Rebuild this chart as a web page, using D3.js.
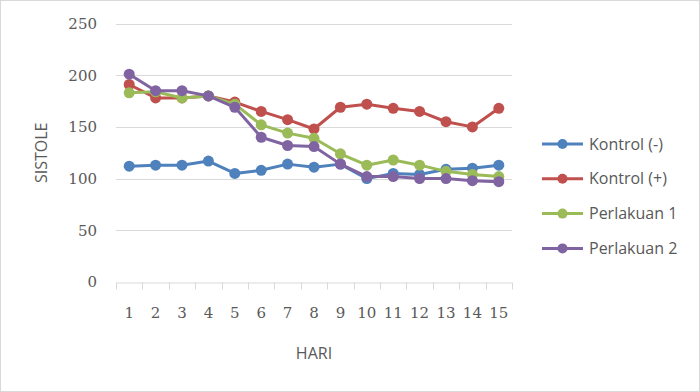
<!DOCTYPE html>
<html>
<head>
<meta charset="utf-8">
<script src="https://cdn.jsdelivr.net/npm/d3@7"></script>
<style>
  body { margin: 0; background: #fff; }
  .tick text { font-family: "DejaVu Serif", serif; font-size: 15px; fill: #595959; }
  .lbl { font-family: "Open Sans", sans-serif; font-size: 16px; fill: #595959; }
</style>
</head>
<body>
<div id="chart"></div>
<script>
// Sistole per hari, four groups
const days = d3.range(1, 16);
const seriesNames = ['Kontrol (-)', 'Kontrol (+)', 'Perlakuan 1', 'Perlakuan 2'];
const kontrolMin = [112, 113, 113, 117, 105, 108, 114, 111, 114, 100, 105, 104, 109, 110, 113];
const kontrolPlus = [191, 178, 178, 180, 174, 165, 157, 148, 169, 172, 168, 165, 155, 150, 168];
const perlakuan1 = [183, 184, 178, 180, 172, 152, 144, 139, 124, 113, 118, 113, 107, 104, 102];
const perlakuan2 = [201, 185, 185, 180, 169, 140, 132, 131, 114, 102, 102, 100, 100, 98, 97];
const yTicks = [0, 50, 100, 150, 200, 250];
const colors = ['#4f81bd', '#c0504d', '#9bbb59', '#8064a2'];

const width = 700, height = 392;
const margin = {left: 116, right: 188, top: 23.5, bottom: 110};

const svg = d3.select('#chart').append('svg')
    .attr('width', width)
    .attr('height', height);

// outer chart border
svg.append('rect')
    .attr('x', 0.5).attr('y', 0.5)
    .attr('width', width - 1).attr('height', height - 1)
    .attr('fill', '#fff')
    .attr('stroke', '#d9d9d9');

const x = d3.scaleBand()
    .domain(days)
    .range([margin.left, width - margin.right]);

const y = d3.scaleLinear()
    .domain([0, 250])
    .range([height - margin.bottom, margin.top]);

// gridlines
svg.append('g')
    .selectAll('line')
    .data(yTicks.slice(1))
    .join('line')
    .attr('x1', margin.left).attr('x2', width - margin.right)
    .attr('y1', d => Math.round(y(d)) + 0.5).attr('y2', d => Math.round(y(d)) + 0.5)
    .attr('stroke', '#d9d9d9');

// y axis labels
const yAxis = svg.append('g')
    .attr('transform', `translate(${margin.left},0)`)
    .call(d3.axisLeft(y).tickValues(yTicks).tickSize(0).tickPadding(19));
yAxis.select('.domain').remove();

// x axis
const xAxis = svg.append('g')
    .attr('transform', `translate(0,${Math.round(y(0)) + 0.5})`)
    .call(d3.axisBottom(x).tickSize(0).tickPadding(25));
xAxis.select('.domain').attr('stroke', '#d9d9d9');
xAxis.selectAll('.tickmark')
    .data(d3.range(0, 16))
    .join('line')
    .attr('class', 'tickmark')
    .attr('x1', d => Math.round(margin.left + d * x.step()) + 0.5)
    .attr('x2', d => Math.round(margin.left + d * x.step()) + 0.5)
    .attr('y1', 0).attr('y2', 7)
    .attr('stroke', '#d9d9d9');

// axis titles
svg.append('text')
    .attr('class', 'lbl')
    .attr('x', (margin.left + width - margin.right) / 2)
    .attr('y', 359)
    .attr('text-anchor', 'middle')
    .text('HARI');

svg.append('text')
    .attr('class', 'lbl')
    .attr('transform', `translate(47,${y(125)}) rotate(-90)`)
    .attr('text-anchor', 'middle')
    .text('SISTOLE');

// lines
const allSeries = [kontrolMin, kontrolPlus, perlakuan1, perlakuan2];
const line = d3.line()
    .x((d, i) => x(days[i]) + x.bandwidth() / 2)
    .y(d => y(d));

allSeries.forEach((vals, k) => {
    const g = svg.append('g');
    g.append('path')
        .datum(vals)
        .attr('d', line)
        .attr('fill', 'none')
        .attr('stroke', colors[k])
        .attr('stroke-width', 3)
        .attr('stroke-linejoin', 'round');
    g.selectAll('circle')
        .data(vals)
        .join('circle')
        .attr('cx', (d, i) => x(days[i]) + x.bandwidth() / 2)
        .attr('cy', d => y(d))
        .attr('r', 5.5)
        .attr('fill', colors[k]);
});

// legend
const legend = svg.append('g')
    .selectAll('g')
    .data(seriesNames)
    .join('g')
    .attr('transform', (d, i) => `translate(542,${144 + i * 34.8})`);
legend.append('line')
    .attr('x1', 0).attr('x2', 41)
    .attr('stroke', (d, i) => colors[i])
    .attr('stroke-width', 3);
legend.append('circle')
    .attr('cx', 20.5).attr('r', 5)
    .attr('fill', (d, i) => colors[i]);
legend.append('text')
    .attr('class', 'lbl')
    .attr('x', 47)
    .attr('dy', '0.35em')
    .text(d => d);
</script>
</body>
</html>
